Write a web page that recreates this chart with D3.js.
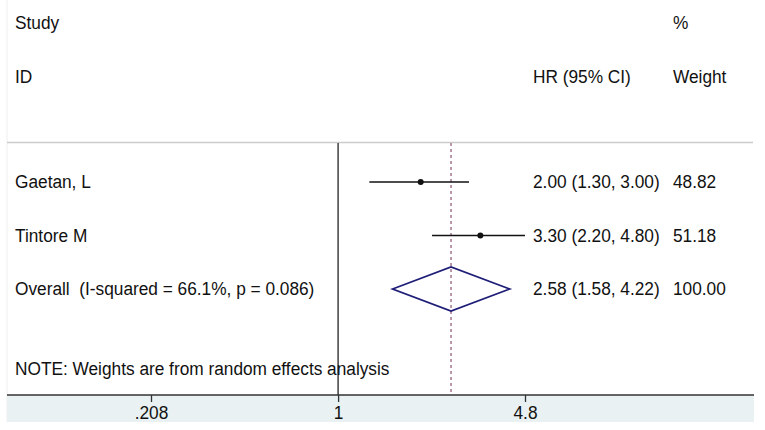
<!DOCTYPE html>
<html>
<head>
<meta charset="utf-8">
<script src="https://cdn.jsdelivr.net/npm/d3@7"></script>
<style>
  body { margin: 0; background: #fff; }
  text { font-family: "Liberation Sans", Arial, sans-serif; fill: #111; white-space: pre; }
</style>
</head>
<body>
<div id="chart"></div>
<script>
// data
const studies = ["Gaetan, L", "Tintore M"];
const hr = [2.00, 3.30];
const lower = [1.30, 2.20];
const upper = [3.00, 4.80];
const weights = [48.82, 51.18];
const overallLabel = "Overall  (I-squared = 66.1%, p = 0.086)";
const overallHR = [2.58, 1.58, 4.22]; // estimate, low, high
const overallWeight = 100.00;
const tickValues = [0.208, 1, 4.8];
const tickLabels = [".208", "1", "4.8"];
const note = "NOTE: Weights are from random effects analysis";

const width = 765, height = 430;
const fs = 18, squeeze = 0.96;

const svg = d3.select("#chart").append("svg")
  .attr("width", width)
  .attr("height", height);

// log scale for HR
const x = d3.scaleLog()
  .domain([tickValues[0], tickValues[2]])
  .range([151, 525]);

const rows = studies.concat(["Overall"]);
const y = d3.scalePoint()
  .domain(rows)
  .range([182, 289]);

const topY = 143, axisY = 395;
const f2 = d3.format(".2f");

// text helper, slightly narrowed like the original
function label(str, tx, ty, anchor) {
  svg.append("g")
    .attr("transform", `translate(${tx},${ty})`)
    .append("text")
    .attr("transform", `scale(${squeeze},1)`)
    .attr("text-anchor", anchor || "start")
    .attr("dy", "0.36em")
    .attr("font-size", fs)
    .text(str);
}

// faint frame edge
svg.append("line").attr("x1", 7).attr("x2", 7).attr("y1", 0).attr("y2", 422)
  .attr("stroke", "#eeeeee");

// header line
svg.append("line")
  .attr("x1", 7).attr("x2", 753)
  .attr("y1", topY - 0.5).attr("y2", topY - 0.5)
  .attr("stroke", "#cccccc").attr("stroke-width", 1.5);

// axis band
svg.append("rect")
  .attr("x", 7).attr("y", axisY)
  .attr("width", 747).attr("height", 27)
  .attr("fill", "#e9f1f2");

// headers
label("Study", 15, 23);
label("ID", 15, 77);
label("HR (95% CI)", 533, 77);
label("%", 673, 23);
label("Weight", 673, 77);

// null line at 1
svg.append("line")
  .attr("x1", x(1)).attr("x2", x(1))
  .attr("y1", topY).attr("y2", axisY)
  .attr("stroke", "#222").attr("stroke-width", 1.3);

// overall effect dashed line
svg.append("line")
  .attr("x1", x(overallHR[0])).attr("x2", x(overallHR[0]))
  .attr("y1", topY).attr("y2", axisY)
  .attr("stroke", "#a3778f").attr("stroke-width", 1.5)
  .attr("stroke-dasharray", "3,3");

// study rows
studies.forEach(function(s, i) {
  const yy = y(s);
  svg.append("line")
    .attr("x1", x(lower[i])).attr("x2", x(upper[i]))
    .attr("y1", yy).attr("y2", yy)
    .attr("stroke", "#111").attr("stroke-width", 1.6);
  svg.append("circle")
    .attr("cx", x(hr[i])).attr("cy", yy)
    .attr("r", 3).attr("fill", "#111");
  label(s, 15, yy);
  label(`${f2(hr[i])} (${f2(lower[i])}, ${f2(upper[i])})`, 533, yy);
  label(f2(weights[i]), 673, yy);
});

// overall diamond
const oy = y("Overall");
const dh = 22;
svg.append("path")
  .attr("d", `M${x(overallHR[1])},${oy} L${x(overallHR[0])},${oy - dh} L${x(overallHR[2])},${oy} L${x(overallHR[0])},${oy + dh} Z`)
  .attr("fill", "none")
  .attr("stroke", "#1e1e78")
  .attr("stroke-width", 1.8);
label(overallLabel, 15, oy);
label(`${f2(overallHR[0])} (${f2(overallHR[1])}, ${f2(overallHR[2])})`, 533, oy);
label(f2(overallWeight), 673, oy);

label(note, 15, 369);

// x axis
const axis = svg.append("g")
  .attr("transform", `translate(0,${axisY})`)
  .call(d3.axisBottom(x)
    .tickValues(tickValues)
    .tickFormat((d, i) => tickLabels[i])
    .tickSize(7)
    .tickSizeOuter(0));

axis.select(".domain").remove();
svg.append("line")
  .attr("x1", 7).attr("x2", 754)
  .attr("y1", axisY).attr("y2", axisY)
  .attr("stroke", "#333").attr("stroke-width", 1.5);

axis.selectAll(".tick line").attr("stroke", "#333").attr("stroke-width", 1.3);
axis.selectAll(".tick text")
  .attr("font-size", fs)
  .attr("font-family", "Liberation Sans, Arial, sans-serif")
  .attr("fill", "#111")
  .attr("y", 11)
  .attr("dy", "0.71em")
  .attr("transform", `scale(${squeeze},1)`);
</script>
</body>
</html>
